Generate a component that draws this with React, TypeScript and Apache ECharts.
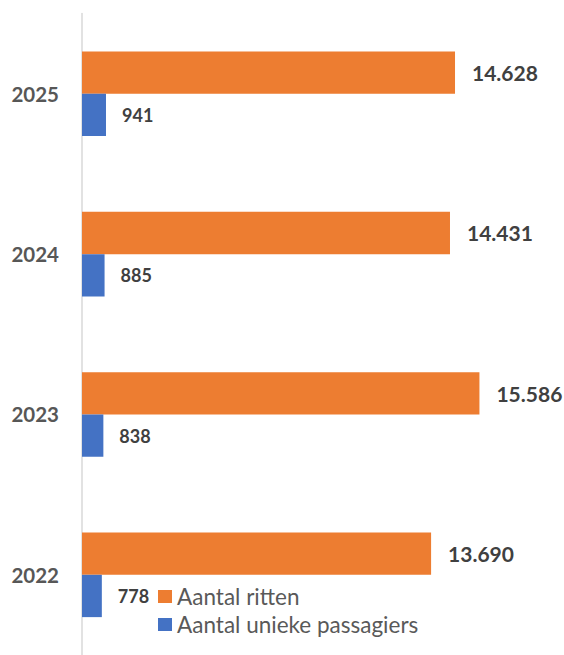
import React, { useEffect, useRef } from "react";
import * as echarts from "echarts";

const years = ["2022", "2023", "2024", "2025"];
const ritten = [13690, 15586, 14431, 14628];
const passagiers = [778, 838, 885, 941];
const seriesNames = ["Aantal ritten", "Aantal unieke passagiers"];

const fmt = (v: number) => String(v).replace(/\B(?=(\d{3})+(?!\d))/g, ".");

export default function App() {
  const ref = useRef<HTMLDivElement>(null);
  useEffect(() => {
    const chart = echarts.init(ref.current!, null, { renderer: "svg" });
    const font = "Lato, 'Open Sans', sans-serif";
    chart.setOption({
      animation: false,
      textStyle: { fontFamily: font },
      grid: { left: 82, top: 13.6, width: 459, height: 645 },
      legend: {
        data: seriesNames,
        orient: "vertical",
        left: 158,
        top: 585,
        padding: 0,
        icon: "rect",
        itemWidth: 14,
        itemHeight: 13,
        itemGap: 5,
        textStyle: { fontSize: 22.5, color: "#595959", fontFamily: font },
      },
      xAxis: { type: "value", min: 0, max: 18000, show: false },
      yAxis: {
        type: "category",
        data: years,
        axisLine: { lineStyle: { color: "#D9D9D9", width: 1.5 } },
        axisTick: { show: false },
        axisLabel: {
          margin: 23,
          fontSize: 20.5,
          fontWeight: "bold",
          color: "#575757",
          fontFamily: font,
        },
      },
      series: [
        {
          name: seriesNames[0],
          type: "bar",
          data: ritten,
          barWidth: 42.3,
          barGap: "0%",
          itemStyle: { color: "#ED7D31" },
          label: {
            show: true,
            position: "right",
            distance: 17,
            fontSize: 21,
            fontWeight: "bold",
            color: "#404040",
            fontFamily: font,
            formatter: (p: any) => fmt(p.value),
          },
        },
        {
          name: seriesNames[1],
          type: "bar",
          data: passagiers,
          barWidth: 42.3,
          barGap: "0%",
          itemStyle: { color: "#4472C4" },
          label: {
            show: true,
            position: "right",
            distance: 16,
            fontSize: 18,
            fontWeight: "bold",
            color: "#404040",
            fontFamily: font,
            formatter: (p: any) => fmt(p.value),
          },
        },
      ],
    });
    return () => chart.dispose();
  }, []);
  return (
    <div
      ref={ref}
      style={{ position: "absolute", left: 0, top: 0, width: 564, height: 655, background: "#fff" }}
    />
  );
}
